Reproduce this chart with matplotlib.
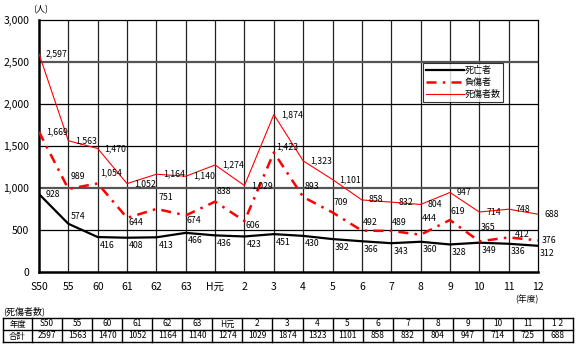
import matplotlib
matplotlib.use("Agg")
import matplotlib.pyplot as plt

plt.rcParams['font.family'] = ['Noto Sans CJK JP', 'DejaVu Sans']

# data
years = ["S50", "55", "60", "61", "62", "63", "H元", "2", "3", "4", "5", "6",
         "7", "8", "9", "10", "11", "12"]
total = [2597, 1563, 1470, 1052, 1164, 1140, 1274, 1029, 1874, 1323, 1101, 858,
         832, 804, 947, 714, 748, 688]
deaths = [928, 574, 416, 408, 413, 466, 436, 423, 451, 430, 392, 366,
          343, 360, 328, 349, 336, 312]
injured = [1669, 989, 1054, 644, 751, 674, 838, 606, 1423, 893, 709, 492,
           489, 444, 619, 365, 412, 376]
table_years = ["S50", "55", "60", "61", "62", "63", "H元", "2", "3", "4", "5", "6",
               "7", "8", "9", "10", "11", "1 2"]
table_total = [2597, 1563, 1470, 1052, 1164, 1140, 1274, 1029, 1874, 1323, 1101, 858,
               832, 804, 947, 714, 725, 688]

# label offsets in pixels (dx, dy up) -- layout only
deaths_off = [(7, 0), (2, 7)] + [(2, -8)] * 16
injured_off = [(7, 0), (2, 12), (2, 11), (1, -5), (2, 11), (1, -5), (2, 10), (1, -4),
               (2, 6), (1, 10), (1, 10), (1, 8), (1, 8), (1, 16), (1, 9), (1, 14),
               (6, 3), (4, 0)]

W, H = 580, 356
PT = 0.72  # points per pixel at dpi 100
fig = plt.figure(figsize=(W / 100, H / 100), dpi=100)


def px_axes(x0, y0, x1, y1):
    return fig.add_axes([x0 / W, 1 - y1 / H, (x1 - x0) / W, (y1 - y0) / H])


ax = px_axes(39, 20, 538, 272)
x = list(range(len(years)))
ax.set_xlim(0, len(years) - 1)
ax.set_ylim(0, 3000)

# grid
for xi in x[1:-1]:
    ax.axvline(xi, color="#222222", lw=0.9, zorder=1)
for yv in (500, 1500, 2000):
    ax.axhline(yv, color="black", lw=0.9, zorder=1)
for yv in (1000, 2500):
    ax.axhline(yv, color="#555555", lw=1.6, zorder=1)

for s in ax.spines.values():
    s.set_color("black")
    s.set_linewidth(0.9)
ax.spines["left"].set_linewidth(1.8)
ax.spines["bottom"].set_linewidth(1.8)

ax.plot(x, deaths, color="black", lw=1.6, label="死亡者", zorder=3)
inj, = ax.plot(x, injured, color="red", lw=1.8, label="負傷者", zorder=3)
inj.set_dashes([4, 2.5, 1, 2.5])
ax.plot(x, total, color="red", lw=0.8, label="死傷者数", zorder=3)

ax.set_yticks([0, 500, 1000, 1500, 2000, 2500, 3000])
ax.set_yticklabels(["0", "500", "1,000", "1,500", "2,000", "2,500", "3,000"])
ax.set_xticks(x)
ax.set_xticklabels(years)
ax.tick_params(length=0, labelsize=7.5, pad=7)
ax.tick_params(axis="x", pad=7)

fs = 6.3
for i, v in enumerate(total):
    ax.annotate(f"{v:,}", (i, v), xytext=(5, 0), textcoords="offset points",
                fontsize=fs, va="center", ha="left", zorder=5)
for i, v in enumerate(deaths):
    dx, dy = deaths_off[i]
    ax.annotate(f"{v:,}", (i, v), xytext=(dx * PT, dy * PT), textcoords="offset points",
                fontsize=fs, va="center", ha="left", zorder=5)
for i, v in enumerate(injured):
    dx, dy = injured_off[i]
    ax.annotate(f"{v:,}", (i, v), xytext=(dx * PT, dy * PT), textcoords="offset points",
                fontsize=fs, va="center", ha="left", zorder=5)

leg = ax.legend(loc="upper left", bbox_to_anchor=((423 - 39) / 499, (272 - 63) / 252),
                fontsize=6.5, frameon=True, fancybox=False, borderpad=0.3,
                labelspacing=0.35, handlelength=4.2, handletextpad=0.1,
                borderaxespad=0)
leg.get_frame().set_edgecolor("black")
leg.get_frame().set_linewidth(0.8)
leg.set_zorder(6)

fig.text(33 / W, 1 - 10 / H, "(人)", fontsize=6.5, va="center", ha="left")
fig.text(527 / W, 1 - 299 / H, "(年度)", fontsize=6.3, va="center", ha="center")
fig.text(3 / W, 1 - 311 / H, "(死傷者数)", fontsize=6.5, va="center", ha="left")

# table
tx = px_axes(3, 318, 573, 342)
tx.set_xlim(0, 570)
tx.set_ylim(24, 0)
tx.axis("off")
col_w = (570 - 29) / len(table_years)
edges = [0, 29] + [29 + col_w * (k + 1) for k in range(len(table_years))]
for e in edges:
    tx.plot([e, e], [0, 24], color="black", lw=1.0, clip_on=False)
for yy in (0, 12, 24):
    tx.plot([0, 570], [yy, yy], color="black", lw=1.0, clip_on=False)
tx.text(14.5, 6, "年度", fontsize=6.0, ha="center", va="center")
tx.text(14.5, 18, "合計", fontsize=6.0, ha="center", va="center")
for k, (yl, tv) in enumerate(zip(table_years, table_total)):
    cx = (edges[k + 1] + edges[k + 2]) / 2
    tx.text(cx, 6, yl, fontsize=6.0, ha="center", va="center")
    tx.text(cx, 18, str(tv), fontsize=6.0, ha="center", va="center")

fig.savefig("out.png", dpi=100)
